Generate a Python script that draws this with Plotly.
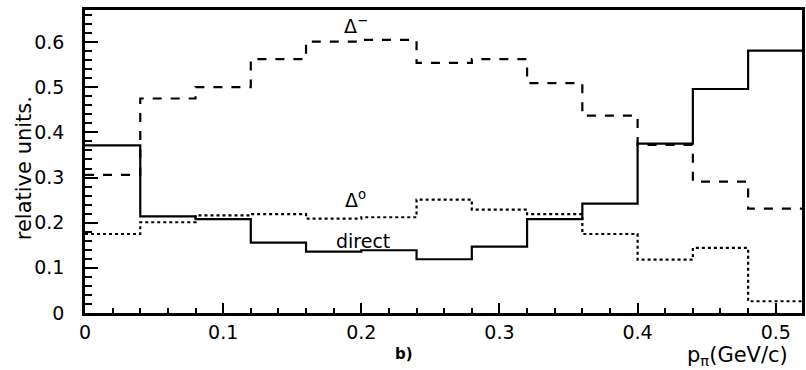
import plotly.graph_objects as go

# Bin edges in p_pi (GeV/c), width 0.04
bin_edges = [0.00, 0.04, 0.08, 0.12, 0.16, 0.20, 0.24, 0.28, 0.32, 0.36, 0.40, 0.44, 0.48, 0.52]

# Histogram contents (relative units)
direct = [0.371, 0.214, 0.208, 0.156, 0.136, 0.139, 0.119, 0.147, 0.208, 0.242, 0.375, 0.496, 0.581]
delta_minus = [0.306, 0.475, 0.500, 0.562, 0.601, 0.605, 0.554, 0.562, 0.509, 0.437, 0.372, 0.291, 0.231]
delta_zero = [0.175, 0.201, 0.216, 0.219, 0.209, 0.212, 0.251, 0.229, 0.219, 0.175, 0.118, 0.144, 0.026]

x_ticks = [0, 0.1, 0.2, 0.3, 0.4, 0.5]
y_ticks = [0, 0.1, 0.2, 0.3, 0.4, 0.5, 0.6]

FONT = "DejaVu Sans"

W, H = 806, 370
L, R, T, B = 85, 1, 10, 57
PW, PH = W - L - R, H - T - B


def step_xy(values):
    # 'hv' step: one point per left edge, plus the final right edge
    xs = list(bin_edges)
    ys = list(values) + [values[-1]]
    return xs, ys


def px_to_paper(px, py):
    return (px - L) / PW, (H - B - py) / PH


fig = go.Figure()
for vals, dash in [(delta_zero, "dot"), (delta_minus, "dash"), (direct, "solid")]:
    xs, ys = step_xy(vals)
    fig.add_trace(go.Scatter(
        x=xs, y=ys, mode="lines", line_shape="hv",
        line=dict(color="black", width=2.2, dash=dash),
        showlegend=False, hoverinfo="skip",
    ))

axis_common = dict(
    showgrid=False, zeroline=False, showline=True, linecolor="black",
    linewidth=2.5, mirror=True, ticks="inside", tickcolor="black",
    tickfont=dict(family=FONT, size=19, color="black"),
)

fig.update_xaxes(
    **axis_common, range=[0, 0.519], tickvals=x_ticks,
    ticktext=[("%g" % v) for v in x_ticks], ticklen=10, tickwidth=1.8,
    minor=dict(dtick=0.02, ticks="inside", ticklen=5, tickwidth=1.5, tickcolor="black"),
    ticklabelstandoff=0,
)
fig.update_yaxes(
    **axis_common, range=[0, 0.671], tickvals=y_ticks,
    ticktext=[("%g" % v) for v in y_ticks], ticklen=13, tickwidth=1.8,
    minor=dict(dtick=0.02, ticks="inside", ticklen=7, tickwidth=1.5, tickcolor="black"),
    ticklabelstandoff=14,
)

# Curve labels in data coordinates
for x, y, text, size in [
    (0.196, 0.637, "Δ<sup>−</sup>", 19),
    (0.196, 0.252, "Δ<sup>o</sup>", 19),
    (0.201, 0.160, "direct", 19),
]:
    fig.add_annotation(x=x, y=y, xref="x", yref="y", text=text, showarrow=False,
                       xanchor="center", yanchor="middle",
                       font=dict(family=FONT, size=size, color="black"))

# Axis titles and panel tag, placed by pixel position
for px, py, text, size, angle in [
    (24, 168, "relative units.", 21, -90),
    (740, 356, "p<sub>π</sub>(GeV/c)", 21, 0),
    (405, 354, "<b>b)</b>", 15, 0),
]:
    xp, yp = px_to_paper(px, py)
    fig.add_annotation(x=xp, y=yp, xref="paper", yref="paper", text=text,
                       showarrow=False, textangle=angle,
                       xanchor="center", yanchor="middle",
                       font=dict(family=FONT, size=size, color="black"))

fig.update_layout(
    width=W, height=H,
    margin=dict(l=L, r=R, t=T, b=B),
    paper_bgcolor="white", plot_bgcolor="white",
    font=dict(family=FONT, color="black"),
)

fig.write_html("out.html", config={"displayModeBar": False})
